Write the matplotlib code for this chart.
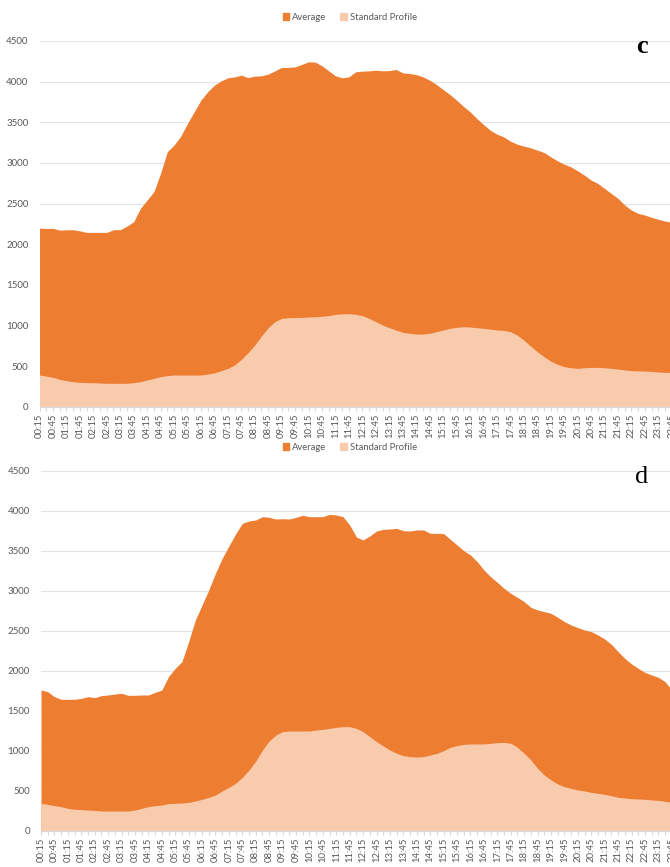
import matplotlib.pyplot as plt
from matplotlib.patches import Patch
import numpy as np

plt.rcParams['font.family'] = ['Lato', 'DejaVu Sans']

# 15-minute slots, 00:15 ... 24:00
times = [f"{(m // 60):02d}:{(m % 60):02d}" for m in range(15, 24 * 60 + 1, 15)]

avg_c = [2200, 2195, 2196, 2175, 2178, 2180, 2165, 2147, 2147, 2147, 2147, 2180,
         2180, 2224, 2278, 2442, 2544, 2646, 2872, 3138, 3220, 3330, 3487, 3630,
         3773, 3875, 3957, 4010, 4047, 4059, 4080, 4050, 4068, 4072, 4093, 4133,
         4175, 4175, 4182, 4212, 4244, 4240, 4195, 4133, 4072, 4047, 4059, 4121,
         4129, 4133, 4141, 4133, 4136, 4150, 4109, 4100, 4088, 4059, 4019, 3966,
         3904, 3843, 3773, 3699, 3630, 3548, 3474, 3404, 3355, 3322, 3269, 3232,
         3208, 3187, 3158, 3130, 3076, 3027, 2986, 2953, 2904, 2851, 2790, 2749,
         2688, 2626, 2565, 2483, 2421, 2381, 2360, 2332, 2307, 2286, 2270, 2255]
std_c = [393, 380, 365, 340, 323, 311, 303, 300, 299, 295, 291, 291,
         291, 291, 300, 311, 332, 352, 373, 385, 393, 393, 393, 393,
         393, 405, 420, 446, 475, 516, 586, 668, 762, 873, 975, 1049,
         1090, 1098, 1100, 1102, 1106, 1110, 1116, 1123, 1139, 1145, 1147, 1140,
         1123, 1090, 1049, 1008, 975, 946, 918, 905, 897, 897, 905, 926,
         946, 967, 979, 987, 983, 975, 967, 958, 946, 942, 926, 885,
         823, 750, 680, 618, 565, 524, 496, 483, 475, 483, 487, 487,
         483, 475, 467, 455, 446, 444, 442, 438, 430, 426, 426, 420]

avg_d = [1762, 1742, 1679, 1646, 1646, 1646, 1658, 1679, 1667, 1692, 1700, 1712,
         1721, 1696, 1696, 1700, 1700, 1733, 1762, 1929, 2033, 2117, 2367, 2637,
         2825, 3013, 3221, 3408, 3563, 3713, 3846, 3875, 3888, 3929, 3921, 3900,
         3904, 3900, 3921, 3946, 3929, 3929, 3929, 3958, 3950, 3929, 3825, 3675,
         3638, 3688, 3750, 3771, 3775, 3783, 3754, 3750, 3763, 3763, 3721, 3721,
         3717, 3646, 3575, 3504, 3450, 3367, 3263, 3179, 3108, 3033, 2971, 2921,
         2867, 2796, 2763, 2742, 2721, 2671, 2617, 2575, 2542, 2513, 2492, 2450,
         2400, 2333, 2242, 2158, 2088, 2033, 1983, 1950, 1921, 1867, 1760, 1650]
std_d = [346, 333, 317, 304, 283, 271, 267, 262, 258, 250, 250, 250,
         250, 250, 262, 283, 304, 317, 325, 342, 346, 350, 358, 375,
         396, 421, 450, 500, 546, 596, 671, 762, 875, 1012, 1125, 1200,
         1242, 1250, 1250, 1250, 1250, 1262, 1271, 1283, 1296, 1304, 1304, 1283,
         1242, 1179, 1117, 1062, 1012, 971, 942, 929, 925, 929, 950, 971,
         1004, 1046, 1067, 1083, 1088, 1088, 1088, 1096, 1104, 1108, 1096, 1046,
         971, 888, 783, 700, 638, 588, 554, 533, 512, 500, 483, 471,
         458, 442, 421, 412, 404, 400, 396, 388, 383, 371, 358, 350]

DARK = '#ED7D31'
LIGHT = '#F8CBAD'
GREY = '#595959'


def draw_panel(fig, rect, avg, std, letter, letter_weight, legend_y):
    ax = fig.add_axes(rect)
    x = np.arange(len(times))
    ax.fill_between(x, 0, avg, color=DARK, lw=0, zorder=2)
    ax.fill_between(x, 0, std, color=LIGHT, lw=0, zorder=3)
    ax.set_xlim(0, len(times) - 1)
    ax.set_ylim(0, 4500)
    ax.set_yticks(range(0, 4501, 500))
    ax.grid(axis='y', color='#E3E3E3', lw=0.8, zorder=0)
    ax.set_axisbelow(True)
    for s in ['top', 'right', 'left']:
        ax.spines[s].set_visible(False)
    ax.spines['bottom'].set_color('#D9D9D9')
    ax.spines['bottom'].set_zorder(4)
    ax.set_xticks(x)
    ax.set_xticklabels([t if i % 2 == 0 else '' for i, t in enumerate(times)],
                       rotation=90, fontsize=6.8, color=GREY)
    ax.tick_params(axis='x', length=3, color='#D9D9D9', pad=2)
    ax.tick_params(axis='y', length=0, labelsize=7, labelcolor=GREY, pad=8)
    handles = [Patch(color=DARK, label='Average'),
               Patch(color=LIGHT, label='Standard Profile')]
    fig.legend(handles=handles, loc='center', bbox_to_anchor=(0.522, legend_y),
               ncol=2, frameon=False, fontsize=6.8, labelcolor=GREY,
               handlelength=0.7, handleheight=0.7, handletextpad=0.3,
               columnspacing=1.5)
    fig.text(642 / 670, rect[1] + rect[3] - 6 / 867, letter, fontsize=19,
             family='Liberation Serif', weight=letter_weight,
             ha='center', va='center')
    return ax


fig = plt.figure(figsize=(6.7, 8.67), dpi=100)
draw_panel(fig, [39.5 / 670, 1 - 407 / 867, 639 / 670, 366 / 867],
           avg_c, std_c, 'c', 'bold', 1 - 17 / 867)
draw_panel(fig, [41 / 670, 1 - 831 / 867, 637.5 / 670, 360 / 867],
           avg_d, std_d, 'd', 'normal', 1 - 447 / 867)

fig.savefig('out.png', dpi=100)
